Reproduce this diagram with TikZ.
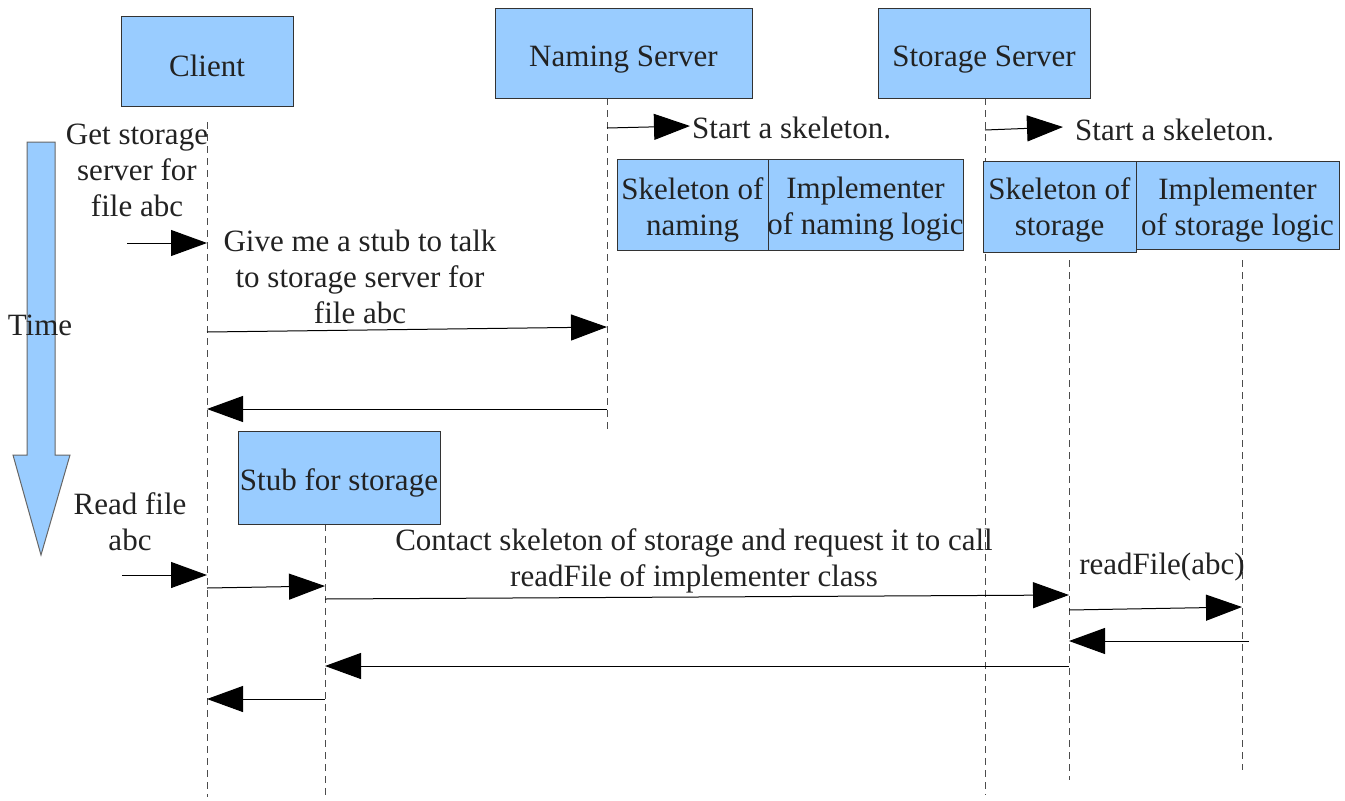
\documentclass[tikz,border=0pt]{standalone}
\usepackage{fontspec}
\setmainfont{Liberation Serif}
\usetikzlibrary{arrows.meta}
\definecolor{boxblue}{HTML}{99CCFF}
\definecolor{ink}{HTML}{222222}
\tikzset{
	box/.style={draw=black!80, fill=boxblue, line width=1pt, inner sep=0pt},
	boxtext/.style={align=center, text=ink, inner sep=0pt, yshift=-5pt},
	lifeline/.style={draw=black!70, dashed, line width=0.9pt, dash pattern=on 7pt off 5pt},
	msg/.style={line width=1pt, -{Triangle[length=36pt,width=26pt]}},
	txt/.style={align=center, text=ink, inner sep=0pt}
}
\begin{document}
\begin{tikzpicture}[x=1pt, y=-1pt, font=\fontsize{31}{36}\selectfont]
\useasboundingbox (0,0) rectangle (1345,801);

% time arrow
\draw[fill=boxblue, draw=black!60, line width=1pt] (27,142) -- (55,142) -- (55,455) -- (70,455) -- (41,555) -- (13,455) -- (27,455) -- cycle;
\node[txt] (time) at (40,325) {Time};

% lifelines
\coordinate (cl) at (207,122); \coordinate (nl) at (607,98);
\coordinate (sl) at (985,98); \coordinate (kl) at (1069,260);
\coordinate (il) at (1242,260); \coordinate (tl) at (325,524);
\draw[lifeline] (cl) -- (cl |- 0,797);
\draw[lifeline] (nl) -- (nl |- 0,432);
\draw[lifeline] (sl) -- (sl |- 0,795);
\draw[lifeline] (kl) -- (kl |- 0,780);
\draw[lifeline] (il) -- (il |- 0,770);
\draw[lifeline] (tl) -- (tl |- 0,797);

% boxes
\node[box, minimum width=172pt, minimum height=90pt, label={[boxtext]center:Client}] (client) at (207,61) {};
\node[box, minimum width=257pt, minimum height=90pt, label={[boxtext, yshift=-2pt]center:Naming Server}] (naming) at (623.5,53) {};
\node[box, minimum width=212pt, minimum height=90pt, label={[boxtext, yshift=-2pt]center:Storage Server}] (storage) at (984,53) {};
\node[box, minimum width=151pt, minimum height=91pt, label={[boxtext]center:{Skeleton of\\naming}}] (skelnaming) at (692.5,204.5) {};
\node[box, minimum width=195pt, minimum height=91pt, label={[boxtext]center:{Implementer\\of naming logic}}] (implnaming) at (865.5,204.5) {};
\node[box, minimum width=153pt, minimum height=91pt, label={[boxtext, yshift=2pt]center:{Skeleton of\\storage}}] (skelstorage) at (1059.5,206.5) {};
\node[box, minimum width=203pt, minimum height=88pt, label={[boxtext]center:{Implementer\\of storage logic}}] (implstorage) at (1237.5,205) {};
\node[box, minimum width=202pt, minimum height=93pt, label={[boxtext]center:Stub for storage}] (stub) at (339,477.5) {};

% messages
\coordinate (get) at (127,243); \coordinate (read) at (122,575);
\coordinate (nstart) at (690,126); \coordinate (sstart) at (1063,127);
\draw[msg] (get) -- (cl |- 0,243);
\draw[msg] (cl |- 0,332) -- (nl |- 0,327);
\draw[msg] (nl |- 0,409) -- (cl |- 0,409);
\draw[msg] (nl |- 0,128) -- (nstart);
\draw[msg] (sl |- 0,130) -- (sstart);
\draw[msg] (read) -- (cl |- 0,575);
\draw[msg] (cl |- 0,588) -- (tl |- 0,586);
\draw[msg] (tl |- 0,599) -- (kl |- 0,595);
\draw[msg] (kl |- 0,610) -- (il |- 0,607);
\draw[msg] ([xshift=7pt]il |- 0,641) -- (kl |- 0,641);
\draw[msg] (kl |- 0,666) -- (tl |- 0,666);
\draw[msg] (tl |- 0,699) -- (cl |- 0,699);

% labels
\node[txt] (l1) at (137,170) {Get storage\\server for\\file abc};
\node[txt] (l2) at (360,277) {Give me a stub to talk\\to storage server for\\file abc};
\node[txt, anchor=west] (l3) at (692,128) {Start a skeleton.};
\node[txt, anchor=west] (l4) at (1075,130) {Start a skeleton.};
\node[txt] (l5) at (130,522) {Read file\\abc};
\node[txt] (l6) at (694,561) {Contact skeleton of storage and request it to call\\readFile of implementer class};
\node[txt] (l7) at (1162,567) {readFile(abc)};
\end{tikzpicture}
\end{document}
